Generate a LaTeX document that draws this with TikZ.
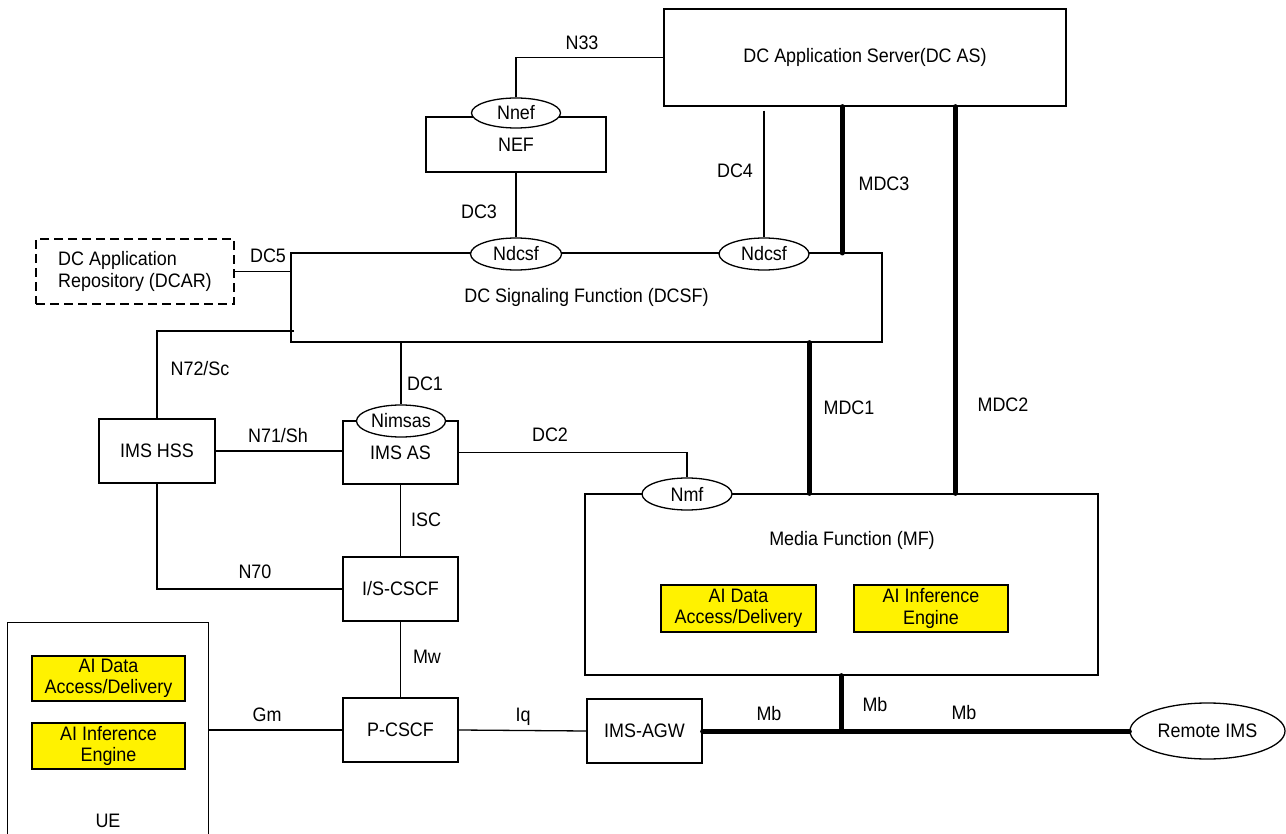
\documentclass[tikz,border=0pt]{standalone}
\usepackage{fontspec}
\setmainfont{Liberation Sans}[FakeStretch=0.92]
\usetikzlibrary{shapes.geometric,calc}
\tikzset{
  every node/.style={font=\fontsize{19.5}{21.5}\selectfont},
  box/.style={draw, line width=1.3pt, rectangle, inner sep=0pt, align=center},
  dbox/.style={box, dashed, dash pattern=on 9pt off 5pt},
  ybox/.style={box, fill=yellow},
  oval/.style={draw, line width=1.3pt, ellipse, fill=white, inner sep=0pt},
  lbl/.style={inner sep=0pt},
  con/.style={line width=1.3pt},
  fat/.style={line width=5pt, line cap=round},
}
\begin{document}
\begin{tikzpicture}[x=1pt,y=-1pt]
\useasboundingbox (0,0) rectangle (1286,834);
% boxes
\node[box, minimum width=402, minimum height=97] (dcas) at (865,57.5) {DC Application Server(DC AS)};
\node[box, minimum width=180, minimum height=55] (nef) at (516,144.5) {NEF};
\node[box, minimum width=591, minimum height=89] (dcsf) at (586.5,297.5) {DC Signaling Function (DCSF)};
\node[dbox, minimum width=198, minimum height=65, align=left] (dcar) at (135,271.5) {DC Application\\Repository (DCAR)};
\node[box, minimum width=116, minimum height=64] (hss) at (157,451) {IMS HSS};
\node[box, minimum width=115, minimum height=63] (imsas) at (400.5,452.5) {IMS AS};
\node[box, minimum width=115, minimum height=64] (iscscf) at (400.5,589) {I/S-CSCF};
\node[box, minimum width=115, minimum height=64] (pcscf) at (400.5,730) {P-CSCF};
\node[box, minimum width=115, minimum height=64] (agw) at (644.5,731) {IMS-AGW};
\node[box, minimum width=513, minimum height=181] (mf) at (841.5,584.5) {};
\node[lbl] (mflbl) at (852,540) {Media Function (MF)};
\node[ybox, minimum width=155, minimum height=47] (mfy1) at (738.5,608.5) {AI Data\\Access/Delivery};
\node[ybox, minimum width=154, minimum height=47] (mfy2) at (931,608.5) {AI Inference\\Engine};
% UE (open at the bottom)
\node[rectangle, inner sep=0pt, minimum width=200, minimum height=211] (ue) at (108,728.5) {};
\draw[con] (ue.south west) -- (ue.north west) -- (ue.north east) -- (ue.south east);
\node[ybox, minimum width=153, minimum height=45] (uey1) at (108.5,678.5) {AI Data\\Access/Delivery};
\node[ybox, minimum width=153, minimum height=46] (uey2) at (108.5,746) {AI Inference\\Engine};
\node[lbl] (uelbl) at (108,821) {UE};
% ovals
\node[oval, minimum width=89, minimum height=30] (nnef) at (516,113) {Nnef};
\node[oval, minimum width=91, minimum height=32] (ndcsf1) at (516,254) {Ndcsf};
\node[oval, minimum width=90, minimum height=32] (ndcsf2) at (764,254) {Ndcsf};
\node[oval, minimum width=89, minimum height=32] (nimsas) at (401,421) {Nimsas};
\node[oval, minimum width=90, minimum height=32] (nmf) at (687,494) {Nmf};
\node[oval, minimum width=155, minimum height=56] (remote) at (1207.5,731) {Remote IMS};
% helper coordinates
\coordinate (dc4top) at ($(dcas.south -| ndcsf2.north)+(0,4)$);
\coordinate (mdc3x) at (842,253);
\coordinate (mdc2x) at (955,0);
\coordinate (mdc1x) at (809,0);
\coordinate (n72start) at (294,331);
\coordinate (mbj) at (841,731);
% thin connectors
\draw[con] (nnef.north) |- (dcas.west);
\draw[con] (nef.south) -- (ndcsf1.north);
\draw[con] (dc4top) -- (ndcsf2.north);
\draw[con] (dcar.east) -- (dcar.east -| dcsf.west);
\draw[con] (n72start) -| (hss.north);
\draw[con] (dcsf.south -| nimsas.north) -- (nimsas.north);
\draw[con] (hss.east) -- (hss.east -| imsas.west);
\draw[con] (imsas.east) -| (nmf.north);
\draw[con] (imsas.south) -- (iscscf.north);
\draw[con] (hss.south) |- (iscscf.west);
\draw[con] (iscscf.south) -- (pcscf.north);
\draw[con] (ue.east |- pcscf.west) -- (pcscf.west);
\draw[con] (pcscf.east) -- (agw.west);
% thick connectors
\draw[fat] (mdc3x |- dcas.south) -- (mdc3x);
\draw[fat] (mdc2x |- dcas.south) -- (mdc2x |- mf.north);
\draw[fat] (mdc1x |- dcsf.south) -- (mdc1x |- mf.north);
\draw[fat] (mbj |- mf.south) -- (mbj);
\draw[fat] (agw.east) -- (remote.west);
% labels
\node[lbl] (l33) at (582,43) {N33};
\node[lbl] (ldc3) at (479,212) {DC3};
\node[lbl] (ldc4) at (735,171) {DC4};
\node[lbl] (lmdc3) at (884,184) {MDC3};
\node[lbl] (ldc5) at (268,256) {DC5};
\node[lbl] (lmdc1) at (849,408) {MDC1};
\node[lbl] (lmdc2) at (1003,405) {MDC2};
\node[lbl] (ln72) at (200,369) {N72/Sc};
\node[lbl] (ldc1) at (425,384) {DC1};
\node[lbl] (ln71) at (278,436) {N71/Sh};
\node[lbl] (ldc2) at (550,435) {DC2};
\node[lbl] (lisc) at (426,520) {ISC};
\node[lbl] (ln70) at (255,572) {N70};
\node[lbl] (lmw) at (427,657) {Mw};
\node[lbl] (lgm) at (267,715) {Gm};
\node[lbl] (liq) at (523,717) {Iq};
\node[lbl] (lmb1) at (769,714) {Mb};
\node[lbl] (lmb2) at (875,705) {Mb};
\node[lbl] (lmb3) at (964,713) {Mb};
\end{tikzpicture}
\end{document}
